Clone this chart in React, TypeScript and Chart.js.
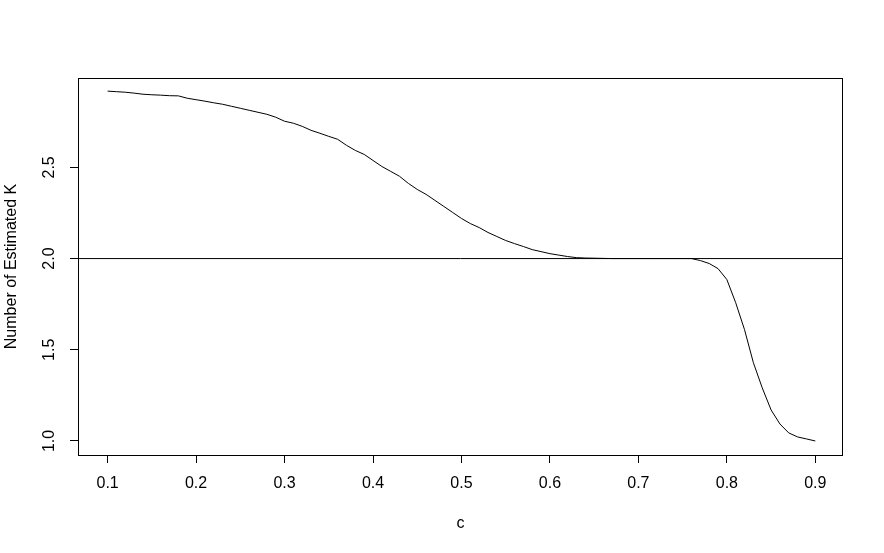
import React, { useEffect, useRef } from "react";
import { Chart, registerables } from "chart.js";

Chart.register(...registerables);

const cValues = [
  0.10, 0.11, 0.12, 0.13, 0.14, 0.15, 0.16, 0.17, 0.18, 0.19,
  0.20, 0.21, 0.22, 0.23, 0.24, 0.25, 0.26, 0.27, 0.28, 0.29,
  0.30, 0.31, 0.32, 0.33, 0.34, 0.35, 0.36, 0.37, 0.38, 0.39,
  0.40, 0.41, 0.42, 0.43, 0.44, 0.45, 0.46, 0.47, 0.48, 0.49,
  0.50, 0.51, 0.52, 0.53, 0.54, 0.55, 0.56, 0.57, 0.58, 0.59,
  0.60, 0.61, 0.62, 0.63, 0.64, 0.65, 0.66, 0.67, 0.68, 0.69,
  0.70, 0.71, 0.72, 0.73, 0.74, 0.75, 0.76, 0.77, 0.78, 0.79,
  0.80, 0.81, 0.82, 0.83, 0.84, 0.85, 0.86, 0.87, 0.88, 0.89,
  0.90,
];

const estimatedK = [
  2.918, 2.915, 2.912, 2.907, 2.901, 2.898, 2.896, 2.893, 2.892, 2.879,
  2.871, 2.863, 2.854, 2.846, 2.835, 2.824, 2.813, 2.802, 2.791, 2.775,
  2.753, 2.742, 2.725, 2.703, 2.687, 2.670, 2.654, 2.621, 2.593, 2.571,
  2.538, 2.505, 2.478, 2.451, 2.412, 2.379, 2.352, 2.319, 2.286, 2.253,
  2.220, 2.192, 2.170, 2.143, 2.121, 2.099, 2.082, 2.066, 2.049, 2.038,
  2.027, 2.019, 2.011, 2.005, 2.003, 2.002, 2.001, 2.000, 2.000, 2.000,
  2.000, 2.000, 2.000, 2.000, 2.000, 2.000, 2.000, 1.989, 1.973, 1.945,
  1.885, 1.758, 1.610, 1.429, 1.291, 1.170, 1.093, 1.044, 1.022, 1.011,
  1.000,
];

const xTicks = [0.1, 0.2, 0.3, 0.4, 0.5, 0.6, 0.7, 0.8, 0.9];
const yTicks = [1.0, 1.5, 2.0, 2.5];
const refLineY = 2.0;

const X_MIN = 0.0665;
const X_MAX = 0.9313;
const Y_MIN = 0.923;
const Y_MAX = 2.99;

const FONT = "'Liberation Sans', Arial, sans-serif";

const boxPlugin = {
  id: "plotBox",
  afterDraw(chart: any) {
    const { ctx, chartArea } = chart;
    ctx.save();
    ctx.strokeStyle = "#000";
    ctx.lineWidth = 1;
    ctx.strokeRect(
      Math.round(chartArea.left) + 0.5,
      Math.round(chartArea.top) + 0.5,
      Math.round(chartArea.right - chartArea.left) - 1,
      Math.round(chartArea.bottom - chartArea.top)
    );
    ctx.restore();
  },
};

export default function App() {
  const ref = useRef<HTMLCanvasElement | null>(null);

  useEffect(() => {
    if (!ref.current) return;
    const chart = new Chart(ref.current, {
      type: "line",
      data: {
        datasets: [
          {
            data: cValues.map((c, i) => ({ x: c, y: estimatedK[i] })),
            borderColor: "#000",
            borderWidth: 1,
            pointRadius: 0,
            tension: 0,
            fill: false,
          },
          {
            data: [
              { x: X_MIN, y: refLineY },
              { x: X_MAX, y: refLineY },
            ],
            borderColor: "#000",
            borderWidth: 1,
            pointRadius: 0,
            tension: 0,
            fill: false,
          },
        ],
      },
      options: {
        responsive: false,
        animation: false,
        layout: { padding: { top: 78, right: 41, left: 0, bottom: 0 } },
        plugins: {
          legend: { display: false },
          tooltip: { enabled: false },
        },
        scales: {
          x: {
            type: "linear",
            min: X_MIN,
            max: X_MAX,
            afterBuildTicks: (scale: any) => {
              scale.ticks = xTicks.map((v) => ({ value: v }));
            },
            afterFit: (scale: any) => {
              scale.height = 98;
            },
            grid: {
              display: true,
              drawOnChartArea: false,
              drawTicks: true,
              tickLength: 8,
              color: "#000",
              lineWidth: 1,
            },
            border: { display: false },
            ticks: {
              autoSkip: false,
              maxRotation: 0,
              minRotation: 0,
              padding: 11,
              color: "#000",
              font: { family: FONT, size: 16 },
              callback: (v: any) => Number(v).toFixed(1),
            },
            title: {
              display: true,
              text: "c",
              color: "#000",
              font: { family: FONT, size: 16 },
              padding: { top: 0, bottom: 20 },
            },
          },
          y: {
            type: "linear",
            min: Y_MIN,
            max: Y_MAX,
            afterBuildTicks: (scale: any) => {
              scale.ticks = yTicks.map((v) => ({ value: v }));
            },
            afterFit: (scale: any) => {
              scale.width = 78;
            },
            grid: {
              display: true,
              drawOnChartArea: false,
              drawTicks: true,
              tickLength: 8,
              color: "#000",
              lineWidth: 1,
            },
            border: { display: false },
            ticks: {
              autoSkip: false,
              minRotation: 90,
              maxRotation: 90,
              crossAlign: "center",
              padding: 9,
              color: "#000",
              font: { family: FONT, size: 16 },
              callback: (v: any) => Number(v).toFixed(1),
            },
            title: {
              display: true,
              text: "Number of Estimated K",
              color: "#000",
              font: { family: FONT, size: 16 },
              padding: { top: 2, bottom: 0 },
            },
          },
        },
      },
      plugins: [boxPlugin],
    } as any);
    return () => chart.destroy();
  }, []);

  return (
    <div style={{ position: "absolute", left: 0, top: 0, width: 884, height: 553, background: "#fff" }}>
      <canvas ref={ref} width={884} height={553} style={{ display: "block" }} />
    </div>
  );
}
